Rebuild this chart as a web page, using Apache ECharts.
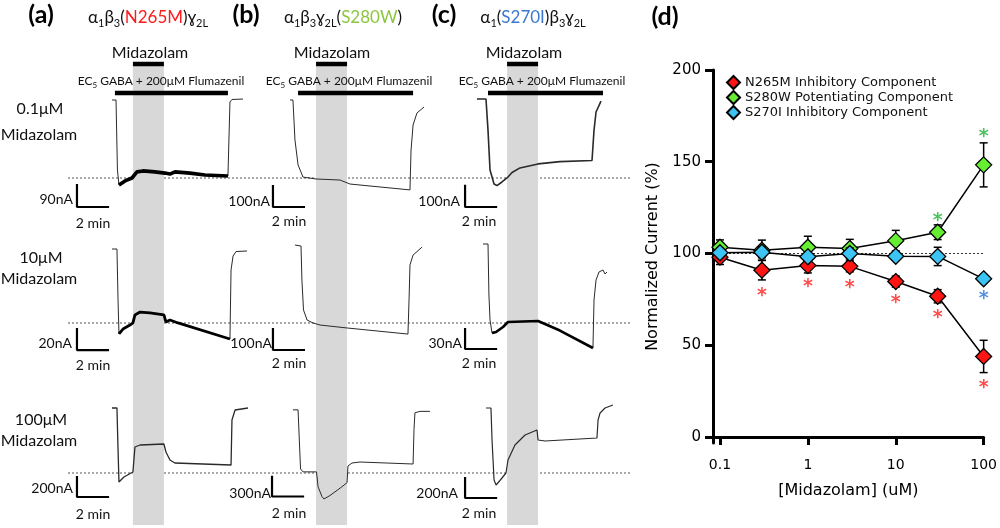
<!DOCTYPE html>
<html><head><meta charset="utf-8">
<script src="https://cdn.jsdelivr.net/npm/echarts@6/dist/echarts.min.js"></script>
<style>html,body{margin:0;padding:0;background:#fff}#c{width:1000px;height:528px}</style>
</head><body><div id="c"></div>
<script>
// ================= Panel (d) data =================
const concentrations = [0.1, 0.3, 1, 3, 10, 30, 100];
const n265mMean = [98, 90.9, 93.4, 93, 84.7, 76.7, 43.9];
const n265mSem  = [4, 5.3, 4, 3, 3, 3.6, 8.8];
const s280wMean = [103.4, 101.8, 103.4, 102.7, 107, 111.6, 148.3];
const s280wSem  = [4, 5.5, 6, 5, 5.6, 4, 12];
const s270iMean = [100.4, 100.7, 98.2, 100, 98.5, 98.4, 86.2];
const s270iSem  = [2.5, 3, 2, 3, 2, 5, 2];
const seriesNames = ['N265M Inhibitory Component', 'S280W Potentiating Component', 'S270I Inhibitory Component'];
const yTickValues = [0, 50, 100, 150, 200];
const xTickValues = [0.1, 1, 10, 100];
// significance asterisks: [concentration, vertical position in % units]
const starN265M = [[0.3, 78.8], [1, 83.9], [3, 83.5], [10, 75.4], [30, 67.2], [100, 29]];
const starS280W = [[30, 119.8], [100, 165.9]];
const starS270I = [[100, 77.2]];

// ================= Traces (time in min, current in nA) =================
// (a) a1b3(N265M)g2L
const a1Time = [0, 0.26, 0.35, 0.45, 0.84, 1.29, 1.61, 2.0, 2.77, 3.42, 3.74, 4.06, 5.03, 6.0, 7.48, 7.61, 7.74, 8.45];
const a1Curr = [0, 0, -286, -348, -331, -319, -294, -290, -294, -299, -303, -294, -299, -307, -311, -8, 2, 4];
const a2Time = [0, 0.32, 0.39, 0.45, 0.71, 1.16, 1.35, 1.48, 1.81, 2.45, 3.35, 3.48, 3.74, 4.26, 7.61, 7.68, 7.81, 8.0, 8.71];
const a2Curr = [0, 0, -48.6, -80.9, -76.2, -72.4, -70.4, -62.8, -60.0, -60.9, -62.8, -69.5, -67.6, -70.4, -85.7, -20.0, -6.7, -2.4, -1.9];
const a3Time = [0, 0.32, 0.39, 0.45, 0.77, 1.35, 1.48, 1.81, 3.35, 3.48, 3.74, 4.06, 7.68, 7.74, 7.94, 8.77];
const a3Curr = [0, 0, -420, -740, -690, -640, -390, -370, -360, -440, -520, -550, -570, -120, -20, 0];
// (b) a1b3g2L(S280W)
const b1Time = [0, 0.19, 0.32, 0.52, 0.84, 1.68, 3.23, 3.87, 5.81, 7.74, 7.81, 7.94, 8.19, 8.65];
const b1Curr = [0, 0, -190, -309, -367, -376, -381, -400, -414, -428, -238, -119, -62, -33];
const b2Time = [0.32, 0.71, 0.77, 0.87, 1.10, 1.48, 1.94, 3.68, 7.61, 7.68, 7.74, 7.94, 8.52];
const b2Curr = [0, -5, -167, -309, -357, -371, -381, -395, -424, -262, -95, -48, -10];
const b3Time = [0.19, 0.52, 0.68, 0.84, 1.71, 1.81, 2.06, 2.19, 2.58, 3.23, 3.68, 3.74, 4.0, 4.52, 7.94, 8.0, 8.06, 8.39, 9.03];
const b3Curr = [0, 0, -900, -945, -945, -1170, -1320, -1358, -1305, -1193, -1110, -855, -810, -795, -825, -300, -45, -23, -23];
// (c) a1(S270I)b3g2L
const c1Time = [0, 0.58, 0.71, 0.84, 1.10, 1.29, 1.61, 1.94, 2.26, 2.77, 3.94, 5.35, 7.42, 7.55, 7.68, 8.0];
const c1Curr = [0, 0, -148, -338, -405, -412, -395, -376, -350, -328, -309, -298, -293, -148, -62, -10];
const c2Time = [0.39, 0.71, 0.77, 0.84, 0.97, 1.23, 1.68, 2.0, 3.94, 5.35, 7.48, 7.55, 7.68, 7.87, 8.13, 8.26, 8.39];
const c2Curr = [0, 0, -76.5, -114, -133.5, -132, -124.5, -117, -115.5, -129.8, -156, -84, -54, -42, -39, -45, -42];
const c3Time = [0.58, 0.90, 0.97, 1.10, 1.23, 1.48, 1.87, 2.0, 2.45, 3.10, 3.87, 3.94, 4.39, 7.74, 7.81, 7.94, 8.26, 8.77];
const c3Curr = [0, 0, -320, -720, -770, -725, -650, -520, -370, -270, -220, -320, -330, -300, -120, -50, 0, 30];

// drug application timing per column (min)
const midazolamStart = [1.35, 1.68, 1.94];
const midazolamEnd   = [3.35, 3.68, 3.94];
const gabaStart = [0.19, 0.52, 0.71];
const gabaEnd   = [7.48, 7.94, 8.13];

// scale bars [col][row]: current amplitude (nA), time 2 min
const scaleBarNA = [[90, 20, 200], [100, 100, 300], [100, 30, 200]];
const scaleBarMin = 2;
const scaleBarTime = [[-2.26, -2.26, -2.26], [-1.10, -1.10, -1.16], [-0.77, -0.77, -0.77]];
const scaleBarBottom = [[-437.6, -96.2, -890], [-509.3, -499.8, -1320], [-514, -157.5, -900]];

// ================= layout =================
const PX_PER_MIN = 15.5;
const T_MIN = -3, T_MAX = 9.5;
const colOrigin = [112, 290, 477];
const rowTop = [[100, 249, 408], [100, 245, 410], [99, 244, 408]];
const nAperPx = [[4.09, 0.952, 10], [4.76, 4.76, 15], [4.76, 1.5, 10]];

const traces = [
  [{t: a1Time, i: a1Curr, w: 1, thick: [3, 14], tw: 3.6}, {t: a2Time, i: a2Curr, w: 1, thick: [3, 14], tw: 2.8}, {t: a3Time, i: a3Curr, w: 1.3}],
  [{t: b1Time, i: b1Curr, w: 1}, {t: b2Time, i: b2Curr, w: 1}, {t: b3Time, i: b3Curr, w: 1}],
  [{t: c1Time, i: c1Curr, w: 1.6}, {t: c2Time, i: c2Curr, w: 1, thick: [4, 10], tw: 2.6}, {t: c3Time, i: c3Curr, w: 1.2}]
];

const grid = [], xAxis = [], yAxis = [], series = [];
const LEFT_FONT = 'Lato, "Open Sans", sans-serif';
const D_FONT = '"DejaVu Sans", sans-serif';

// protocol grids (gray shading + bars)
for (let c = 0; c < 3; c++) {
  const gi = grid.length;
  grid.push({left: colOrigin[c] + T_MIN * PX_PER_MIN, top: 64, width: (T_MAX - T_MIN) * PX_PER_MIN, height: 461});
  xAxis.push({gridIndex: gi, type: 'value', min: T_MIN, max: T_MAX, show: false});
  yAxis.push({gridIndex: gi, type: 'value', min: 0, max: 100, show: false});
  series.push({
    type: 'line', xAxisIndex: gi, yAxisIndex: gi, z: 1, clip: false, silent: true, symbol: 'none',
    data: [[midazolamStart[c], 100], [midazolamEnd[c], 100]],
    lineStyle: {color: '#000', width: 4.5},
    markArea: {silent: true, itemStyle: {color: '#d8d8d8'}, data: [[{xAxis: midazolamStart[c]}, {xAxis: midazolamEnd[c]}]]}
  });
  series.push({
    type: 'line', xAxisIndex: gi, yAxisIndex: gi, z: 1, clip: false, silent: true, symbol: 'none',
    data: [[gabaStart[c], 93.7], [gabaEnd[c], 93.7]],
    lineStyle: {color: '#000', width: 4.5}
  });
}
// trace grids
for (let c = 0; c < 3; c++) {
  for (let r = 0; r < 3; r++) {
    const gi = grid.length;
    const k = nAperPx[c][r];
    grid.push({left: colOrigin[c] + T_MIN * PX_PER_MIN, top: rowTop[c][r] - 10, width: (T_MAX - T_MIN) * PX_PER_MIN, height: 130});
    xAxis.push({gridIndex: gi, type: 'value', min: T_MIN, max: T_MAX, show: false});
    yAxis.push({gridIndex: gi, type: 'value', min: -120 * k, max: 10 * k, show: false});
    const tr = traces[c][r];
    const pts = tr.t.map((v, j) => [v, tr.i[j]]);
    series.push({type: 'line', xAxisIndex: gi, yAxisIndex: gi, z: 3, clip: false, silent: true, symbol: 'none',
      data: pts, lineStyle: {color: '#2a2a2a', width: tr.w}});
    if (tr.thick) {
      series.push({type: 'line', xAxisIndex: gi, yAxisIndex: gi, z: 3, clip: false, silent: true, symbol: 'none',
        data: pts.slice(tr.thick[0], tr.thick[1] + 1), lineStyle: {color: '#000', width: tr.tw}});
    }
    const sx = scaleBarTime[c][r], sb = scaleBarBottom[c][r];
    series.push({type: 'line', xAxisIndex: gi, yAxisIndex: gi, z: 3, clip: false, silent: true, symbol: 'none',
      data: [[sx, sb + scaleBarNA[c][r]], [sx, sb], [sx + scaleBarMin, sb]],
      lineStyle: {color: '#000', width: 2.2, cap: 'square'}});
  }
}

// panel (d)
const dGi = grid.length;
grid.push({left: 713, right: 15, top: 70, bottom: 85});
xAxis.push({
  gridIndex: dGi, type: 'log', logBase: 10, min: 0.0833, max: 100,
  name: '[Midazolam] (uM)', nameLocation: 'middle', nameGap: 40,
  nameTextStyle: {fontFamily: D_FONT, fontSize: 16, color: '#000'},
  axisLine: {lineStyle: {color: '#000', width: 3}},
  axisTick: {customValues: xTickValues, length: 8, lineStyle: {color: '#000', width: 3}},
  axisLabel: {customValues: xTickValues, margin: 15, fontFamily: D_FONT, fontSize: 14, color: '#000',
    formatter: v => String(v)},
  splitLine: {show: false}, minorTick: {show: false}
});
yAxis.push({
  gridIndex: dGi, type: 'value', min: -3.27, max: 200,
  name: 'Normalized Current (%)', nameLocation: 'middle', nameGap: 52, nameRotate: 90,
  nameTextStyle: {fontFamily: D_FONT, fontSize: 16, color: '#000'},
  axisLine: {show: true, lineStyle: {color: '#000', width: 3}},
  axisTick: {show: true, customValues: yTickValues, length: 8, lineStyle: {color: '#000', width: 3}},
  axisLabel: {customValues: yTickValues, margin: 12, fontFamily: D_FONT, fontSize: 15, color: '#000'},
  splitLine: {show: false}
});

const groups = [
  {name: seriesNames[0], mean: n265mMean, sem: n265mSem, color: '#ff1414', stars: starN265M, starColor: '#ff2020'},
  {name: seriesNames[1], mean: s280wMean, sem: s280wSem, color: '#66ee33', stars: starS280W, starColor: '#22b03a'},
  {name: seriesNames[2], mean: s270iMean, sem: s270iSem, color: '#3cc4f4', stars: starS270I, starColor: '#2a78d2'}
];
function errRender(params, api) {
  const x = api.value(0), m = api.value(1), e = api.value(2);
  const top = api.coord([x, m + e]);
  const bot = api.coord([x, m - e]);
  const cw = 4;
  const st = {stroke: '#000', lineWidth: 1.5};
  return {type: 'group', children: [
    {type: 'line', shape: {x1: top[0], y1: top[1], x2: bot[0], y2: bot[1]}, style: st},
    {type: 'line', shape: {x1: top[0] - cw, y1: top[1], x2: top[0] + cw, y2: top[1]}, style: st},
    {type: 'line', shape: {x1: bot[0] - cw, y1: bot[1], x2: bot[0] + cw, y2: bot[1]}, style: st}
  ]};
}
groups.forEach((g, gi) => {
  const zb = 10 + gi * 3;
  const pts = concentrations.map((x, j) => [x, g.mean[j]]);
  series.push({type: 'line', name: g.name + ' line', xAxisIndex: dGi, yAxisIndex: dGi, z: zb, symbol: 'none', silent: true,
    data: pts, lineStyle: {color: '#000', width: 1.5},
    markLine: gi === 0 ? {silent: true, symbol: 'none', label: {show: false},
      lineStyle: {color: '#333', type: [2, 2], width: 1}, data: [{yAxis: 100}]} : undefined});
  series.push({type: 'custom', name: g.name + ' sem', xAxisIndex: dGi, yAxisIndex: dGi, z: zb, silent: true,
    renderItem: errRender, data: concentrations.map((x, j) => [x, g.mean[j], g.sem[j]]), encode: {x: 0, y: 1}});
  series.push({type: 'scatter', name: g.name, xAxisIndex: dGi, yAxisIndex: dGi, z: zb + 1,
    symbol: 'diamond', symbolSize: 16, data: pts,
    itemStyle: {color: g.color, borderColor: '#000', borderWidth: 1.3, opacity: 1}});
  series.push({type: 'scatter', name: g.name + ' sig', xAxisIndex: dGi, yAxisIndex: dGi, z: zb + 2, silent: true,
    symbol: 'circle', symbolSize: 0, itemStyle: {color: 'rgba(0,0,0,0)'}, data: g.stars,
    label: {show: true, position: 'inside', formatter: '*', color: g.starColor, fontSize: 19, fontWeight: 'bold',
      fontFamily: D_FONT, offset: [0, 4]}});
});

// ================= text and reference lines =================
const graphic = [];
function txt(x, y, text, size, opts) {
  graphic.push(Object.assign({type: 'text', x: x, y: y, z: 20, silent: true, style: Object.assign({
    text: text, fontSize: size, fontFamily: LEFT_FONT, fill: '#111', align: 'center', verticalAlign: 'middle'
  }, opts || {})}));
}
const richTitle = {
  n: {fontSize: 17, fontFamily: LEFT_FONT, fill: '#111', lineHeight: 22, verticalAlign: 'middle'},
  s: {fontSize: 11, fontFamily: LEFT_FONT, fill: '#111', lineHeight: 22, verticalAlign: 'bottom'},
  r: {fontSize: 17, fontFamily: LEFT_FONT, fill: '#ff1a1a', lineHeight: 22, verticalAlign: 'middle'},
  g: {fontSize: 17, fontFamily: LEFT_FONT, fill: '#8cc63f', lineHeight: 22, verticalAlign: 'middle'},
  b: {fontSize: 17, fontFamily: LEFT_FONT, fill: '#3b78cf', lineHeight: 22, verticalAlign: 'middle'}
};
// panel letters
txt(41, 15, '(a)', 25, {fontWeight: 'bold', fill: '#000'});
txt(246, 15, '(b)', 25, {fontWeight: 'bold', fill: '#000'});
txt(444, 15, '(c)', 25, {fontWeight: 'bold', fill: '#000'});
txt(665, 17, '(d)', 25, {fontWeight: 'bold', fill: '#000'});
// titles
txt(148, 18, '{n|α}{s|1}{n|β}{s|3}{n|(}{r|N265M}{n|)ɣ}{s|2L}', 17, {rich: richTitle});
txt(343, 18, '{n|α}{s|1}{n|β}{s|3}{n|ɣ}{s|2L}{n|(}{g|S280W}{n|)}', 17, {rich: richTitle});
txt(533, 18, '{n|α}{s|1}{n|(}{b|S270I}{n|)β}{s|3}{n|ɣ}{s|2L}', 17, {rich: richTitle});
// protocol labels
const richEC = {
  n: {fontSize: 12, fontFamily: LEFT_FONT, fill: '#111', lineHeight: 16, verticalAlign: 'middle'},
  s: {fontSize: 8, fontFamily: LEFT_FONT, fill: '#111', lineHeight: 16, verticalAlign: 'bottom'}
};
const midX = [150, 332, 524], ecX = [161, 349, 542];
for (let c = 0; c < 3; c++) {
  txt(midX[c], 53, 'Midazolam', 16);
  txt(ecX[c], 81, '{n|EC}{s|5}{n| GABA + 200μM Flumazenil}', 12, {rich: richEC});
}
// row labels
txt(40, 109, '0.1μM', 16); txt(39, 135, 'Midazolam', 16);
txt(41, 258, '10μM', 16); txt(39, 279, 'Midazolam', 16);
txt(41, 420, '100μM', 16); txt(39, 441, 'Midazolam', 16);
// scale labels
const nAx = [[73, 72, 73], [270, 272, 271], [460, 462, 458]];
const nAy = [[199, 343, 488], [201, 343, 493], [201, 343, 493]];
const minX = [93, 289, 479];
const minY = [[223, 365, 514], [221, 363, 513], [221, 363, 513]];
for (let c = 0; c < 3; c++) for (let r = 0; r < 3; r++) {
  txt(nAx[c][r], nAy[c][r], scaleBarNA[c][r] + 'nA', 14, {align: 'right'});
  txt(minX[c], minY[c][r], scaleBarMin + ' min', 14);
}
// dotted baselines (below the gray shading)
[178, 323, 473].forEach(y => graphic.push({type: 'line', z: 0, silent: true,
  shape: {x1: 68, y1: y, x2: 632, y2: y}, style: {stroke: '#555', lineWidth: 1, lineDash: [2, 2]}}));

const option = {
  animation: false,
  backgroundColor: '#fff',
  grid: grid, xAxis: xAxis, yAxis: yAxis, series: series, graphic: graphic,
  legend: {
    data: seriesNames, orient: 'vertical', left: 721, top: 70, icon: 'diamond',
    itemWidth: 13, itemHeight: 13, itemGap: 0, selectedMode: false,
    textStyle: {fontFamily: D_FONT, fontSize: 13, color: '#111', lineHeight: 13}
  }
};
const chart = echarts.init(document.getElementById('c'));
chart.setOption(option);
</script>
</body></html>
